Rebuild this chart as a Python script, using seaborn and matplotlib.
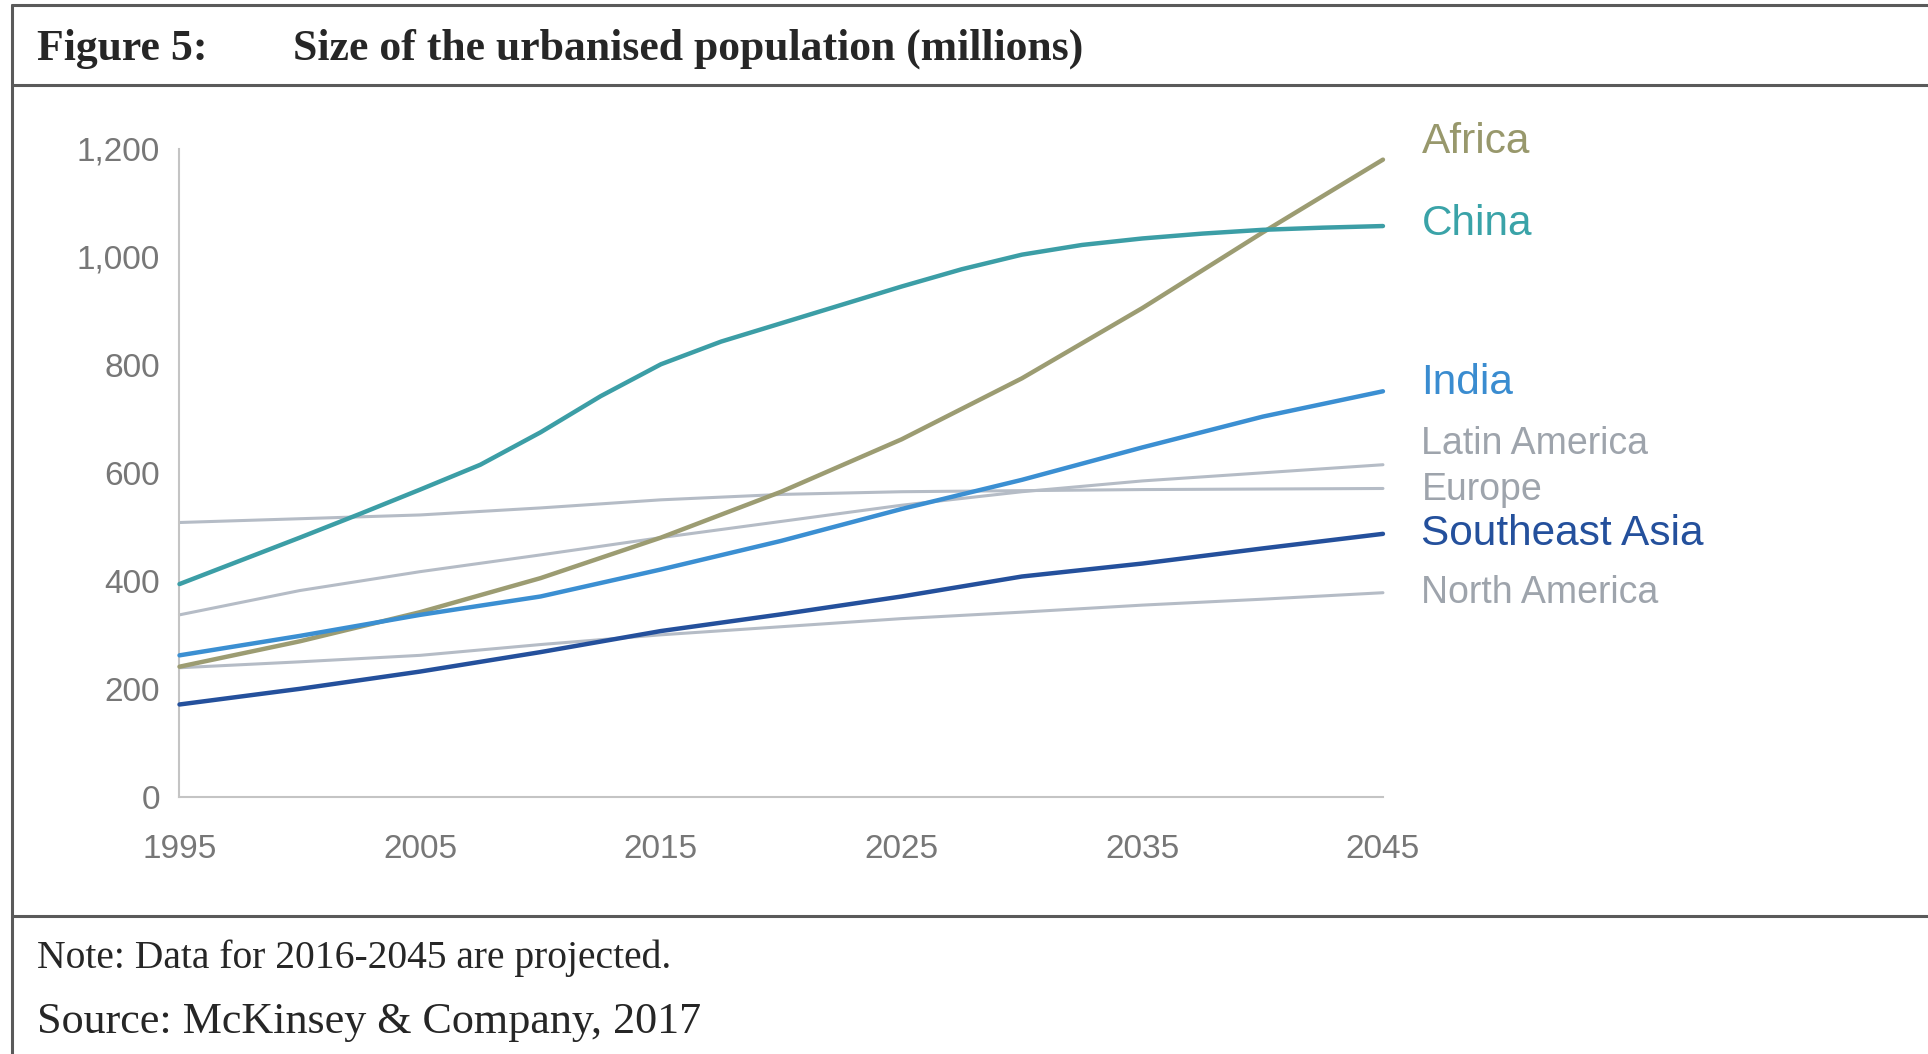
import numpy as np
import pandas as pd
import matplotlib
matplotlib.use("Agg")
import matplotlib.pyplot as plt
from matplotlib.lines import Line2D
import seaborn as sns

# values (millions), every 5 years
years = [1995, 2000, 2005, 2010, 2015, 2020, 2025, 2030, 2035, 2040, 2045]
africa = [241, 288, 342, 405, 480, 565, 662, 775, 905, 1045, 1180]
india = [262, 298, 337, 371, 421, 474, 533, 587, 647, 704, 751]
latin_america = [337, 382, 417, 448, 480, 510, 540, 565, 585, 600, 615]
europe = [508, 515, 522, 535, 550, 560, 565, 567, 569, 570, 571]
southeast_asia = [171, 200, 232, 268, 307, 338, 371, 408, 432, 460, 487]
north_america = [239, 250, 262, 282, 300, 315, 330, 342, 355, 366, 378]
# China bends more, so it is read every 2.5 years
china_years = [1995, 1997.5, 2000, 2002.5, 2005, 2007.5, 2010, 2012.5, 2015,
               2017.5, 2020, 2022.5, 2025, 2027.5, 2030, 2032.5, 2035,
               2037.5, 2040, 2042.5, 2045]
china = [394, 437, 480, 524, 569, 615, 675, 742, 801, 843, 877, 911, 945,
         977, 1004, 1022, 1034, 1043, 1050, 1054, 1057]

regions = ["Africa", "China", "India", "Latin America", "Europe",
           "Southeast Asia", "North America"]
xs = [years, china_years, years, years, years, years, years]
series = [africa, china, india, latin_america, europe, southeast_asia, north_america]
colors = ["#9c9c72", "#3c9ea6", "#3b8fd2", "#b5bcc6", "#b5bcc6", "#24509c", "#b5bcc6"]
text_colors = ["#98986c", "#3aa3a8", "#3a8cd0", "#9ea4ac", "#9ea4ac", "#24509c", "#9ea4ac"]
widths = [3.2, 3.2, 3.2, 2.2, 2.2, 3.2, 2.2]
# where each end label sits (y in data units)
label_y = [1212, 1061, 767, 653, 569, 487, 378]
label_size = [30.5, 30.5, 30.5, 27, 27, 30.5, 27]

df = pd.DataFrame({"year": np.concatenate(xs),
                   "region": np.concatenate([[r] * len(x) for r, x in zip(regions, xs)]),
                   "value": np.concatenate(series)})

sns.set_style("white")
plt.rcParams["font.family"] = ["Liberation Sans", "DejaVu Sans"]

fig = plt.figure(figsize=(19.28, 10.54), dpi=100)
ax = fig.add_axes([0.0931, 0.244, 0.6242, 0.6148])

for name, col, lw in zip(regions, colors, widths):
    sub = df[df["region"] == name]
    sns.lineplot(data=sub, x="year", y="value", color=col, linewidth=lw,
                 ax=ax, clip_on=False, zorder=3 if lw > 3 else 2)

for name, col, yy, fs in zip(regions, text_colors, label_y, label_size):
    ax.text(2046.6, yy, name, color=col, fontsize=fs, va="center", ha="left",
            clip_on=False)

ax.set_xlim(1995, 2045)
ax.set_ylim(0, 1200)
ticks = list(range(1995, 2046, 5))
ax.set_xticks(ticks)
ax.set_xticklabels([str(t) if (t - 1995) % 10 == 0 else "" for t in ticks])
ax.set_yticks(range(0, 1201, 200))
ax.set_yticklabels([f"{v:,}" for v in range(0, 1201, 200)])
ax.set_xlabel("")
ax.set_ylabel("")

for s in ["top", "right"]:
    ax.spines[s].set_visible(False)
for s in ["left", "bottom"]:
    ax.spines[s].set_color("#c4c4c4")
    ax.spines[s].set_linewidth(1.5)

ax.tick_params(axis="both", direction="in", length=9, width=1.5,
               color="#c4c4c4", labelcolor="#777777", labelsize=24)
ax.tick_params(axis="x", pad=27)
ax.tick_params(axis="y", pad=14)

# frame around the figure like the report layout
frame = "#5a5a5a"
for yy in [0.995, 0.919, 0.131]:
    fig.add_artist(Line2D([0.006, 1.0], [yy, yy], color=frame, lw=2.2))
fig.add_artist(Line2D([0.006, 0.006], [0.0, 0.995], color=frame, lw=2.2))

serif = ["Liberation Serif", "DejaVu Serif"]
fig.text(0.0192, 0.9535, "Figure 5:", family=serif, fontsize=31.5,
         fontweight="bold", va="center")
fig.text(0.152, 0.9535, "Size of the urbanised population (millions)",
         family=serif, fontsize=31.5, fontweight="bold", va="center")
fig.text(0.0192, 0.091, "Note: Data for 2016-2045 are projected.",
         family=serif, fontsize=28.5, va="center")
fig.text(0.0192, 0.0304, "Source: McKinsey & Company, 2017",
         family=serif, fontsize=31.8, va="center")

fig.savefig("out.png", dpi=100, facecolor="white")
